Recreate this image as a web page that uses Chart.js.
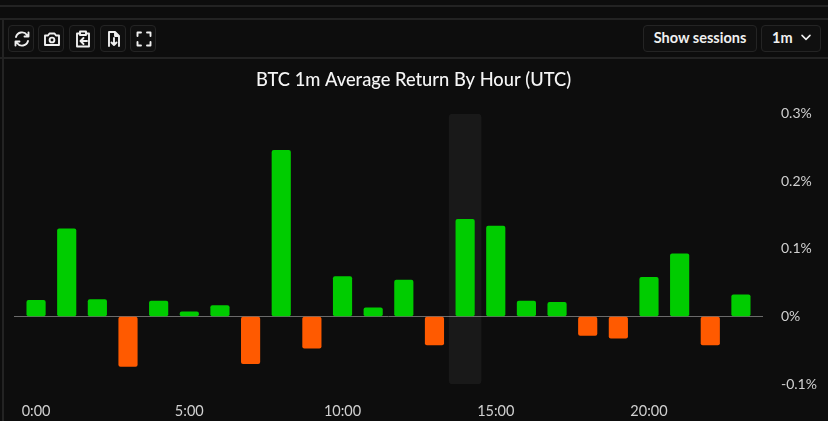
<!DOCTYPE html>
<html><head><meta charset="utf-8">
<script src="https://cdn.jsdelivr.net/npm/chart.js@4/dist/chart.umd.min.js"></script>
<style>
html,body{margin:0;padding:0;background:#0d0d0d;width:828px;height:421px;overflow:hidden;font-family:Lato,sans-serif;}
.ln{position:absolute;background:#232323;}
.btn{position:absolute;box-sizing:border-box;background:#101010;border:1.5px solid #242424;border-radius:4px;top:25px;height:27px;color:#f0f0f0;font-size:14.500px;font-weight:700;line-height:24px;text-align:center;}
.btn svg{position:absolute;left:3px;top:2.5px;width:20px;height:20px;fill:none;stroke:#f0f0f0;stroke-width:1.9;stroke-linecap:round;stroke-linejoin:round;}
canvas{position:absolute;left:0;top:0;}
</style></head><body>
<div class="ln" style="left:0;top:5px;width:828px;height:2px"></div>
<div class="ln" style="left:0;top:18px;width:828px;height:2px"></div>
<div class="ln" style="left:0;top:57px;width:828px;height:2px"></div>
<div class="ln" style="left:2px;top:18px;width:2px;height:403px"></div>
<div class="btn" style="left:8px;width:26px"><svg viewBox="0 0 20 20"><path d="M4 8a6.2 6.2 0 0 1 11-2l1 1.5M16 12a6.2 6.2 0 0 1-11 2l-1-1.5M16.5 3.5v4h-4M3.5 16.500v-4h4"/></svg></div>
<div class="btn" style="left:38px;width:26px"><svg viewBox="0 0 20 20"><path d="M3 6.500h3l1.500-2h5l1.500 2h3v9.500h-14z"/><circle cx="10" cy="11" r="2.400"/></svg></div>
<div class="btn" style="left:69px;width:26px"><svg viewBox="0 0 20 20"><path d="M6 4.500h-2v13h12v-13h-2M7 2.500h6v3.500h-6zM14 12h-6M10.500 9l-3 3 3 3"/></svg></div>
<div class="btn" style="left:100px;width:26px"><svg viewBox="0 0 20 20"><path d="M5 17v-14h6l4 4v10M11 3v4h4M10 9v7M7.500 13.500l2.500 2.500 2.500-2.500"/></svg></div>
<div class="btn" style="left:130px;width:26px"><svg viewBox="0 0 20 20"><path d="M3.500 7v-3.500h3.500M13 3.500h3.500v3.500M16.500 13v3.500h-3.500M7 16.500h-3.500v-3.500"/></svg></div>
<div class="btn" style="left:643px;width:114px">Show sessions</div>
<div class="btn" style="left:761px;width:60px;text-align:left;padding-left:10px">1m<svg viewBox="0 0 20 20" style="left:36px;top:3px;width:16px;height:16px"><path d="M5 8l5 5 5-5"/></svg></div>
<canvas id="c" width="828" height="421"></canvas>
<script>
const hours = [0,1,2,3,4,5,6,7,8,9,10,11,12,13,14,15,16,17,18,19,20,21,22,23];
const returns = [0.024,0.13,0.025,-0.074,0.023,0.007,0.016,-0.07,0.246,-0.047,0.059,0.013,0.054,-0.042,0.144,0.134,0.023,0.021,-0.028,-0.032,0.058,0.093,-0.042,0.032];
const hoverHour = 14;
const hoverRange = [-0.1,0.3];
const xLabelStep = 5;
const yTicks = [0.3,0.2,0.1,0,-0.1];
const GREEN='#00cc00', RED='#ff5a00';
const widenLabelArea={id:'widenLabelArea',beforeDraw(chart){chart.scales.y.right=chart.width;}};
new Chart(document.getElementById('c'),{
  type:'bar',
  plugins:[widenLabelArea],
  data:{datasets:[
    {label:'Average return',order:1,grouped:false,barThickness:18.5,borderRadius:2,borderSkipped:false,
     data:hours.map((h,i)=>({x:h,y:returns[i]})),
     backgroundColor:returns.map(v=>v>=0?GREEN:RED)},
    {label:'Hover',order:2,grouped:false,barThickness:32,borderRadius:4,borderSkipped:false,
     data:[{x:hoverHour,y:hoverRange}],backgroundColor:'rgba(255,255,255,0.05)'}
  ]},
  options:{
    responsive:false,animation:false,
    layout:{padding:{left:14,right:15,top:0,bottom:0}},
    plugins:{legend:{display:false},tooltip:{enabled:false},
      title:{display:true,text:'BTC 1m Average Return By Hour (UTC)',color:'#f5f5f5',
        font:{family:'Lato',size:18.3,weight:'500'},padding:{top:69,bottom:23}}},
    scales:{
      x:{type:'linear',offset:false,min:-0.72,max:23.72,
        grid:{display:false,offset:false},border:{display:false},
        afterBuildTicks(a){a.ticks=hours.filter(h=>h%xLabelStep===0).map(h=>({value:h}));},
        afterFit(a){a.height=37;},
        ticks:{color:'#d0d0d0',font:{family:'Lato',size:14.500},maxRotation:0,padding:11,autoSkip:false,
          callback:v=>v+':00'}},
      y:{position:'right',min:-0.1,max:0.3,
        border:{display:false},
        grid:{drawTicks:false,lineWidth:c=>c.tick&&c.tick.value===0?1:0,color:'#6a6a6a'},
        afterBuildTicks(a){a.ticks=yTicks.map(v=>({value:v}));},
        afterFit(a){a.width=50;},
        ticks:{color:'#d0d0d0',font:{family:'Lato',size:14},padding:18,autoSkip:false,
          callback:v=>Math.round(v*10)/10+'%'}}
    }
  }
});
</script>
</body></html>
